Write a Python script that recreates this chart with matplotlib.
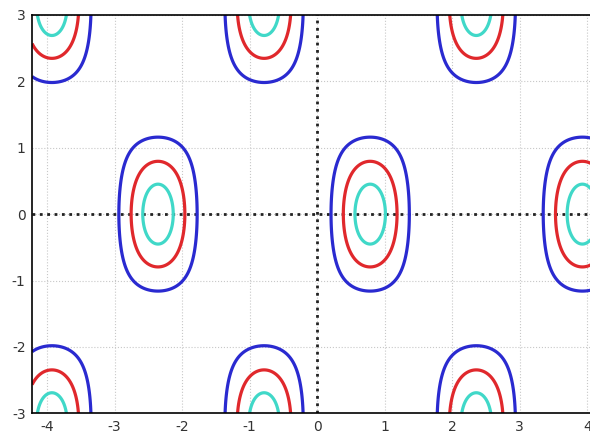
import numpy as np
import matplotlib
matplotlib.use('Agg')
import matplotlib.pyplot as plt

plt.rcParams['axes.unicode_minus'] = False

# contour levels of z = sin(2x) * cos(y), only the positive ones are drawn
levels = [0.4, 0.7, 0.9]
colors = ['#2a2ad0', '#e0282c', '#40d8c8']
xticks = [-4, -3, -2, -1, 0, 1, 2, 3, 4]
yticks = [-3, -2, -1, 0, 1, 2, 3]

x = np.linspace(-4.22, 4.05, 600)
y = np.linspace(-3.0, 3.0, 500)
X, Y = np.meshgrid(x, y)
Z = np.sin(2 * X) * np.cos(Y)

fig = plt.figure(figsize=(5.9, 4.33), dpi=100)
ax = fig.add_axes([0.055, 0.0455, 0.945, 0.92])

ax.grid(True, color='#c8c8c8', linestyle=':', linewidth=0.8)
ax.set_axisbelow(True)
ax.axhline(0, color='#222222', linestyle=':', linewidth=2)
ax.axvline(0, color='#222222', linestyle=':', linewidth=2)

ax.contour(X, Y, Z, levels=levels, colors=colors, linewidths=2.3)

ax.set_xlim(-4.215, 4.04)
ax.set_ylim(-3, 3)
ax.set_xticks(xticks)
ax.set_yticks(yticks)
ax.tick_params(length=0, labelsize=10, labelcolor='#333333', pad=5)
for s in ax.spines.values():
    s.set_color('black')
    s.set_linewidth(1.2)
ax.spines['right'].set_visible(False)

fig.savefig('out.png', dpi=100)
